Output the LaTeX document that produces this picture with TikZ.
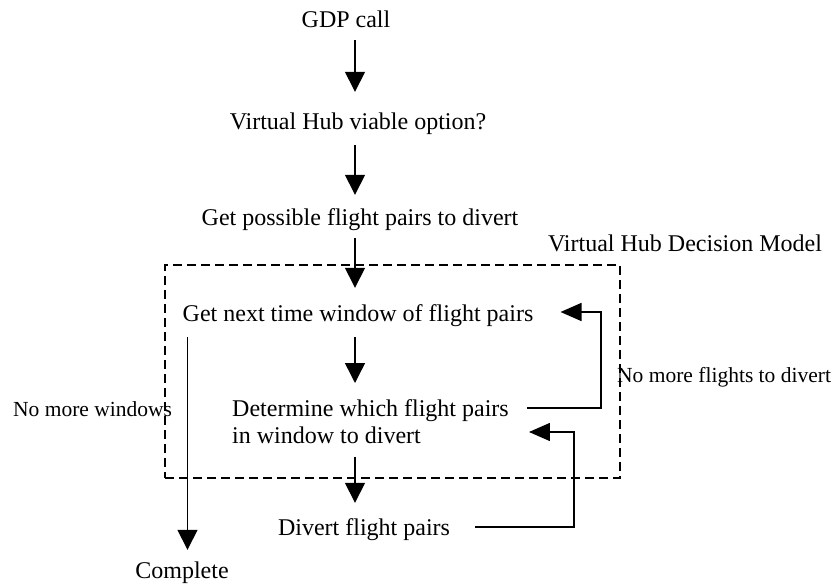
\documentclass[tikz,border=0pt]{standalone}
\usepackage{fontspec}
\setmainfont{Liberation Serif}
\usetikzlibrary{arrows.meta,calc}
\begin{document}
\begin{tikzpicture}[x=1pt,y=-1pt,
  txt/.style={font=\fontsize{24}{27}\selectfont, inner sep=0pt, text height=16pt, text depth=5pt, anchor=base},
  lbl/.style={font=\fontsize{21.5}{25}\selectfont, inner sep=0pt, anchor=base west},
  arr/.style={line width=1.5pt, -{Triangle[length=20pt,width=20pt]}},
  harr/.style={line width=1.5pt, -{Triangle[length=21pt,width=18pt]}},
  dashbox/.style={draw, line width=1.4pt, dash pattern=on 9pt off 5pt, inner sep=0pt}]
\useasboundingbox (0,0) rectangle (833,588);
\coordinate (ax) at (355,0);
% nodes
\node[txt] (gdp) at (346,28) {GDP call};
\node[txt] (vh) at (358,130) {Virtual Hub viable option?};
\node[txt] (gp) at (360,226) {Get possible flight pairs to divert};
\node[txt] (vhdm) at (685,252) {Virtual Hub Decision Model};
\node[dashbox, minimum width=455pt, minimum height=213pt] (box) at (392.5,371.5) {};
\node[txt] (gn) at (358,321) {Get next time window of flight pairs};
\node[font=\fontsize{24}{27}\selectfont, inner sep=0pt, align=left, anchor=north west] (det) at (232,399) {Determine which flight pairs\\in window to divert};
\node[txt] (div) at (364,535) {Divert flight pairs};
\node[txt] (comp) at (182,578) {Complete};
\node[lbl] (nmw) at (13,416) {No more windows};
\node[lbl] (nmf) at (617,382) {No more flights to divert};
% connectors
\draw[arr] ($(gdp.south -| ax)+(0,7)$) -- ($(vh.north -| ax)+(0,-22)$);
\draw[arr] ($(vh.south -| ax)+(0,10)$) -- ($(gp.north -| ax)+(0,-15)$);
\draw[arr] ($(gp.south -| ax)+(0,7)$) -- ($(gn.north -| ax)+(0,-17)$);
\draw[arr] ($(gn.south -| ax)+(0,11)$) -- ($(det.north -| ax)+(0,-16)$);
\draw[arr] ($(det.south -| ax)+(0,13)$) -- ($(div.north -| ax)+(0,-16)$);
\draw[arr] ($(gn.south west)+(5,11)$) coordinate (l1) -- ($(comp.north -| l1)+(0,-12)$);
\draw[harr] ($(det.north east)+(18,9)$) -- ++(74,0) |- ($(gn.base east)+(27,-9)$);
\draw[harr] ($(div.base east)+(25,-8)$) -- ++(99,0) |- ($(det.north east)+(20,33)$);
\end{tikzpicture}
\end{document}
